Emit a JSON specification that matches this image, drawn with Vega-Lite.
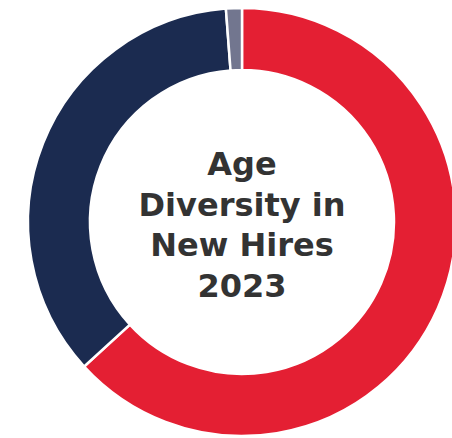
{
  "$schema": "https://vega.github.io/schema/vega-lite/v6.json",
  "width": 452,
  "height": 438,
  "autosize": "none",
  "padding": {"left": 16, "top": 3, "right": 0, "bottom": 0},
  "background": "white",
  "config": {"view": {"stroke": null}},
  "layer": [
    {
      "data": {"values": [
        {"group": "A", "share": 63.2, "order": 1},
        {"group": "B", "share": 35.6, "order": 2},
        {"group": "C", "share": 1.2, "order": 3}
      ]},
      "mark": {"type": "arc", "outerRadius": 214, "innerRadius": 152, "stroke": "white", "strokeWidth": 2.5},
      "encoding": {
        "theta": {"field": "share", "type": "quantitative", "stack": true},
        "order": {"field": "order", "type": "quantitative"},
        "color": {"field": "group", "type": "nominal", "legend": null,
          "scale": {"domain": ["A", "B", "C"], "range": ["#E41F33", "#1B2B50", "#72768F"]}}
      }
    },
    {
      "data": {"values": [{"title": "Age Diversity in New Hires 2023"}]},
      "mark": {"type": "text", "text": ["Age", "Diversity in", "New Hires", "2023"], "font": "DejaVu Sans", "fontWeight": "bold", "fontSize": 32, "lineHeight": 40.5, "color": "#333333", "align": "center", "baseline": "middle", "dy": -57},
      "encoding": {}
    }
  ]
}
